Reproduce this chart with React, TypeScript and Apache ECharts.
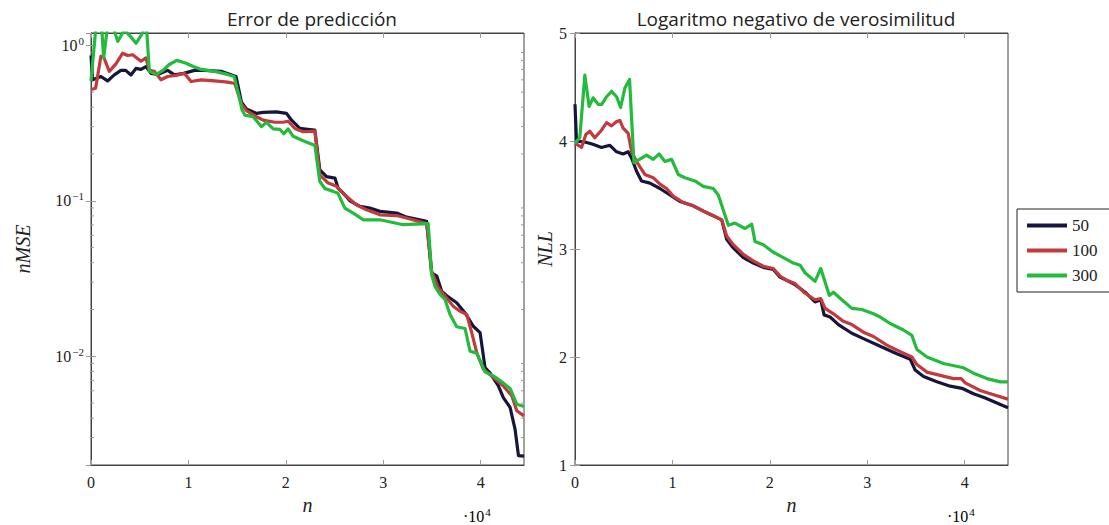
import React, { useEffect, useRef } from 'react';
import * as echarts from 'echarts';

const X_MAX = 44450;
const xTicks = [0, 1, 2, 3, 4];

// Error de predicción (nMSE, log scale)
const nmse50: [number, number][] = [
  [0, 0.86], [160, 0.6], [1020, 0.63], [1700, 0.59], [2390, 0.645], [3070, 0.69], [3560, 0.69],
  [4100, 0.645], [4610, 0.71], [5130, 0.7], [5640, 0.73], [6160, 0.66], [6850, 0.65], [7870, 0.69],
  [8560, 0.645], [9520, 0.66], [10620, 0.69], [11680, 0.69], [13350, 0.68], [14890, 0.63],
  [15450, 0.43], [15960, 0.39], [16990, 0.365], [17670, 0.37], [19040, 0.373], [20070, 0.365],
  [20590, 0.33], [21440, 0.292], [22470, 0.287], [22980, 0.285], [23490, 0.158], [24180, 0.143],
  [25040, 0.14], [25380, 0.12], [25890, 0.112], [26580, 0.1], [27610, 0.092], [28630, 0.0898],
  [29660, 0.0855], [31380, 0.0834], [32400, 0.0785], [34460, 0.0739], [34970, 0.0344],
  [35490, 0.0328], [36000, 0.0262], [36520, 0.0245], [37540, 0.0221], [38400, 0.019],
  [39250, 0.0156], [39940, 0.0142], [40450, 0.00846], [40970, 0.0078], [41820, 0.00645],
  [42330, 0.00543], [43020, 0.00469], [43530, 0.0034], [43880, 0.0023], [44450, 0.00228],
];
const nmse100: [number, number][] = [
  [0, 0.52], [470, 0.53], [1020, 0.85], [1300, 0.84], [1880, 0.68], [2560, 0.76], [3250, 0.89],
  [3760, 0.86], [4280, 0.87], [5130, 0.79], [5640, 0.83], [5990, 0.69], [6510, 0.68], [7180, 0.6],
  [7870, 0.63], [8690, 0.64], [9590, 0.66], [10270, 0.585], [11310, 0.6], [12670, 0.59],
  [14040, 0.58], [14760, 0.568], [15450, 0.42], [15960, 0.38], [16990, 0.347], [17670, 0.33],
  [18870, 0.32], [19690, 0.32], [20240, 0.325], [20920, 0.292], [21780, 0.278], [22980, 0.281],
  [23490, 0.147], [24350, 0.13], [25210, 0.124], [26060, 0.109], [27270, 0.094], [28290, 0.0875],
  [29660, 0.0813], [31380, 0.0804], [32740, 0.0764], [34460, 0.0713], [34970, 0.0352],
  [35650, 0.0276], [36340, 0.0244], [37190, 0.021], [37880, 0.0195], [38570, 0.0186],
  [39080, 0.0142], [39600, 0.01056], [40280, 0.00826], [41310, 0.0073], [42330, 0.00645],
  [43200, 0.00557], [43710, 0.00447], [44450, 0.00414],
];
const nmse300: [number, number][] = [
  [0, 0.59], [500, 1.3], [1000, 1.6], [1300, 0.83], [1800, 1.5], [2300, 1.3], [2740, 1.06],
  [3420, 1.25], [4000, 1.15], [4620, 1.03], [5300, 1.2], [5640, 1.5], [5990, 0.68], [6700, 0.65],
  [7400, 0.69], [8000, 0.75], [8800, 0.8], [9700, 0.77], [10500, 0.73], [11300, 0.7],
  [12700, 0.68], [14000, 0.65], [14700, 0.63], [15200, 0.47], [15500, 0.385], [15790, 0.356],
  [16640, 0.347], [17500, 0.3], [18020, 0.32], [18700, 0.29], [19380, 0.288], [19800, 0.27],
  [20240, 0.29], [20750, 0.26], [21610, 0.246], [22470, 0.234], [22980, 0.228], [23490, 0.133],
  [24010, 0.12], [24860, 0.115], [25340, 0.112], [26060, 0.0898], [26920, 0.0834],
  [27940, 0.0755], [29660, 0.0755], [32060, 0.0702], [34620, 0.0713], [34970, 0.0336],
  [35310, 0.0282], [35830, 0.025], [36340, 0.0232], [36860, 0.0186], [37540, 0.0155],
  [38400, 0.0151], [38910, 0.0108], [39600, 0.01045], [40450, 0.00794], [41300, 0.00748],
  [42170, 0.00685], [43020, 0.00621], [43710, 0.00492], [44450, 0.00476],
];

// Logaritmo negativo de verosimilitud (NLL)
const nll50: [number, number][] = [
  [0, 4.34], [150, 4.0], [1010, 3.99], [1830, 3.97], [2720, 3.94], [3580, 3.96], [4270, 3.9],
  [4940, 3.88], [5460, 3.9], [5810, 3.84], [6320, 3.72], [6830, 3.63], [7690, 3.61], [8720, 3.56],
  [9740, 3.5], [10770, 3.44], [12140, 3.4], [13650, 3.33], [15060, 3.27], [15570, 3.09],
  [16250, 3.01], [17280, 2.92], [18300, 2.87], [19330, 2.83], [20360, 2.81], [21050, 2.74],
  [22590, 2.67], [23620, 2.6], [24640, 2.51], [25230, 2.53], [25570, 2.39], [26190, 2.37],
  [27040, 2.3], [28420, 2.22], [29610, 2.17], [31330, 2.1], [33040, 2.03], [34410, 1.98],
  [34920, 1.88], [35780, 1.82], [37150, 1.77], [38520, 1.73], [39720, 1.71], [40910, 1.66],
  [42120, 1.62], [44450, 1.53],
];
const nll100: [number, number][] = [
  [0, 3.98], [670, 3.94], [1110, 4.06], [1520, 4.09], [2030, 4.03], [2720, 4.1], [3240, 4.17],
  [3750, 4.14], [4270, 4.18], [4600, 4.19], [4940, 4.12], [5460, 4.07], [5810, 3.9], [6320, 3.81],
  [7170, 3.69], [8030, 3.66], [8720, 3.6], [9400, 3.56], [10080, 3.49], [11110, 3.43],
  [12140, 3.4], [13170, 3.35], [14190, 3.31], [15060, 3.27], [15570, 3.12], [16250, 3.04],
  [17280, 2.95], [18300, 2.89], [19330, 2.84], [20360, 2.82], [21050, 2.75], [21740, 2.71],
  [22590, 2.68], [23620, 2.59], [24640, 2.53], [25230, 2.54], [25670, 2.45], [26530, 2.4],
  [27550, 2.33], [28420, 2.3], [29610, 2.23], [30640, 2.19], [32010, 2.11], [33380, 2.05],
  [34580, 2.0], [35100, 1.93], [36130, 1.86], [37490, 1.83], [38860, 1.8], [39650, 1.8],
  [40060, 1.76], [41600, 1.69], [42970, 1.65], [44450, 1.61],
];
const nll300: [number, number][] = [
  [0, 3.98], [490, 4.03], [1010, 4.61], [1450, 4.32], [1860, 4.4], [2370, 4.34], [2750, 4.34],
  [3240, 4.41], [3750, 4.46], [4270, 4.41], [4680, 4.31], [5120, 4.49], [5600, 4.57],
  [6050, 3.8], [7350, 3.87], [8030, 3.83], [8640, 3.88], [9230, 3.81], [9920, 3.83],
  [10600, 3.69], [11280, 3.66], [12310, 3.63], [13170, 3.58], [14190, 3.56], [14710, 3.5],
  [15220, 3.36], [15740, 3.22], [16420, 3.24], [17450, 3.19], [18140, 3.23], [18480, 3.07],
  [19330, 3.04], [20360, 2.97], [21390, 2.92], [22420, 2.87], [23100, 2.85], [23620, 2.78],
  [24640, 2.7], [25230, 2.82], [26110, 2.57], [26530, 2.6], [27390, 2.53], [28420, 2.45],
  [29440, 2.44], [30640, 2.4], [31330, 2.37], [32350, 2.31], [33720, 2.25], [34580, 2.2],
  [35100, 2.07], [36130, 2.0], [37830, 1.94], [39890, 1.9], [40910, 1.85], [42290, 1.8],
  [43660, 1.77], [44450, 1.77],
];

const seriesNames = ['50', '100', '300'];
const seriesColors = ['#16163a', '#c23a3c', '#22bb3c'];

const SERIF = 'Liberation Serif';
const SANS = 'Open Sans';
const FRAME = '#444';

export default function App() {
  const ref = useRef<HTMLDivElement>(null);
  useEffect(() => {
    const chart = echarts.init(ref.current!, null, { renderer: 'svg' });

    const minorVals: number[] = [];
    for (let e = -3; e <= 0; e++) {
      for (let k = 2; k <= 9; k++) {
        const v = k * Math.pow(10, e);
        if (v > 0.002 && v < 1.2) minorVals.push(v);
      }
    }

    const grids = [
      { left: 91, top: 33, width: 433, height: 432 },
      { left: 575, top: 33, width: 433, height: 432 },
    ];

    const xLabelFmt = (v: number) => {
      const k = v / 10000;
      return Number.isInteger(k) && xTicks.includes(k) ? String(k) : '';
    };

    const bottomX = (gi: number) => ({
      type: 'value', gridIndex: gi, min: 0, max: X_MAX, interval: 10000, position: 'bottom',
      name: 'n', nameLocation: 'middle', nameGap: 22,
      nameTextStyle: { fontFamily: SERIF, fontStyle: 'italic', fontSize: 20, color: '#222' },
      axisLine: { show: true, lineStyle: { color: FRAME, width: 1 } },
      axisTick: { show: true, inside: true, length: 5, lineStyle: { color: '#999' } },
      axisLabel: { formatter: xLabelFmt, showMaxLabel: false, fontFamily: SERIF, fontSize: 16, color: '#222', margin: 9 },
      splitLine: { show: false },
    });
    const topX = (gi: number) => ({
      type: 'value', gridIndex: gi, min: 0, max: X_MAX, interval: 10000, position: 'top',
      axisLine: { show: true, lineStyle: { color: FRAME, width: 1 } },
      axisTick: { show: true, inside: true, length: 5, lineStyle: { color: '#999' } },
      axisLabel: { show: false }, splitLine: { show: false },
    });

    const logFmt = (v: number) => {
      const l = Math.log10(v);
      const e = Math.round(l);
      if (Math.abs(l - e) > 1e-6) return '';
      return `{b|10}{s|${e < 0 ? '\u2212' + -e : e}}`;
    };
    const logRich = {
      b: { fontFamily: SERIF, fontSize: 16, color: '#222' },
      s: { fontFamily: SERIF, fontSize: 11, color: '#222', padding: [0, 0, 9, 1] },
    };

    const option: any = {
      animation: false,
      backgroundColor: '#fff',
      textStyle: { fontFamily: SERIF },
      title: [
        { text: 'Error de predicción', left: 307, top: 4, textAlign: 'center',
          textStyle: { fontFamily: SANS, fontSize: 19, fontWeight: 'normal', color: '#222' } },
        { text: 'Logaritmo negativo de verosimilitud', left: 791, top: 4, textAlign: 'center',
          textStyle: { fontFamily: SANS, fontSize: 19, fontWeight: 'normal', color: '#222' } },
      ],
      legend: {
        orient: 'vertical', left: 1017, top: 209,
        data: seriesNames.map((n) => ({ name: n, icon: 'rect' })),
        itemWidth: 40, itemHeight: 4, itemGap: 8,
        borderColor: '#222', borderWidth: 1, borderRadius: 0,
        padding: [8, 20, 8, 10],
        textStyle: { fontFamily: SERIF, fontSize: 17, color: '#222', lineHeight: 16 },
        selectedMode: false,
      },
      grid: grids.map((g) => ({ ...g, show: true, borderColor: FRAME, borderWidth: 1, backgroundColor: 'transparent' })),
      xAxis: [bottomX(0), topX(0), bottomX(1), topX(1)],
      yAxis: [
        {
          type: 'log', logBase: 10, gridIndex: 0, min: 0.002, max: 1.2, position: 'left',
          name: 'nMSE', nameLocation: 'middle', nameGap: 58,
          nameTextStyle: { fontFamily: SERIF, fontStyle: 'italic', fontSize: 20, color: '#222' },
          axisLine: { show: true, lineStyle: { color: FRAME } },
          axisTick: { show: true, inside: true, length: 5, lineStyle: { color: '#999' } },
          axisLabel: { formatter: logFmt, rich: logRich, showMinLabel: false, showMaxLabel: false, margin: 7 },
          splitLine: { show: false },
        },
        {
          type: 'log', logBase: 10, gridIndex: 0, min: 0.002, max: 1.2, position: 'right',
          axisLine: { show: true, lineStyle: { color: FRAME } },
          axisTick: { show: true, inside: true, length: 5, lineStyle: { color: '#999' } },
          axisLabel: { show: false }, splitLine: { show: false },
        },
        {
          type: 'value', gridIndex: 1, min: 1, max: 5, interval: 1, position: 'left',
          name: 'NLL', nameLocation: 'middle', nameGap: 20,
          nameTextStyle: { fontFamily: SERIF, fontStyle: 'italic', fontSize: 20, color: '#222' },
          axisLine: { show: true, lineStyle: { color: FRAME } },
          axisTick: { show: true, inside: true, length: 5, lineStyle: { color: '#999' } },
          axisLabel: { fontFamily: SERIF, fontSize: 16, color: '#222', margin: 8 },
          splitLine: { show: false },
        },
        {
          type: 'value', gridIndex: 1, min: 1, max: 5, interval: 1, position: 'right',
          axisLine: { show: true, lineStyle: { color: FRAME } },
          axisTick: { show: true, inside: true, length: 5, lineStyle: { color: '#999' } },
          axisLabel: { show: false }, splitLine: { show: false },
        },
      ],
      graphic: [
        { type: 'text', left: 463, top: 506, style: { text: '{b|·10}{s|4}', rich: logRich } },
        { type: 'text', left: 947, top: 506, style: { text: '{b|·10}{s|4}', rich: logRich } },
      ],
      series: [
        {
          type: 'custom', xAxisIndex: 0, yAxisIndex: 0, silent: true, z: 1,
          data: minorVals.map((v) => [0, v]),
          encode: { x: 0, y: 1 },
          renderItem: (_p: any, api: any) => {
            const v = api.value(1);
            const l = api.coord([0, v]);
            const r = api.coord([X_MAX, v]);
            const st = { stroke: '#999', lineWidth: 1 };
            return {
              type: 'group',
              children: [
                { type: 'line', shape: { x1: l[0], y1: l[1], x2: l[0] + 3, y2: l[1] }, style: st },
                { type: 'line', shape: { x1: r[0] - 3, y1: r[1], x2: r[0], y2: r[1] }, style: st },
              ],
            };
          },
        },
        ...[nmse50, nmse100, nmse300].map((d, i) => ({
          type: 'line', name: seriesNames[i], xAxisIndex: 0, yAxisIndex: 0, data: d,
          symbol: 'none', showSymbol: false, clip: true, z: 3 + i,
          lineStyle: { color: seriesColors[i], width: 3.2, join: 'round' },
          itemStyle: { color: seriesColors[i] },
        })),
        ...[nll50, nll100, nll300].map((d, i) => ({
          type: 'line', name: seriesNames[i], xAxisIndex: 2, yAxisIndex: 2, data: d,
          symbol: 'none', showSymbol: false, clip: true, z: 3 + i,
          lineStyle: { color: seriesColors[i], width: 3.2, join: 'round' },
          itemStyle: { color: seriesColors[i] },
        })),
      ],
    };

    chart.setOption(option);
    return () => chart.dispose();
  }, []);

  return <div ref={ref} style={{ position: 'fixed', left: 0, top: 0, width: 1109, height: 525, background: '#fff' }} />;
}
